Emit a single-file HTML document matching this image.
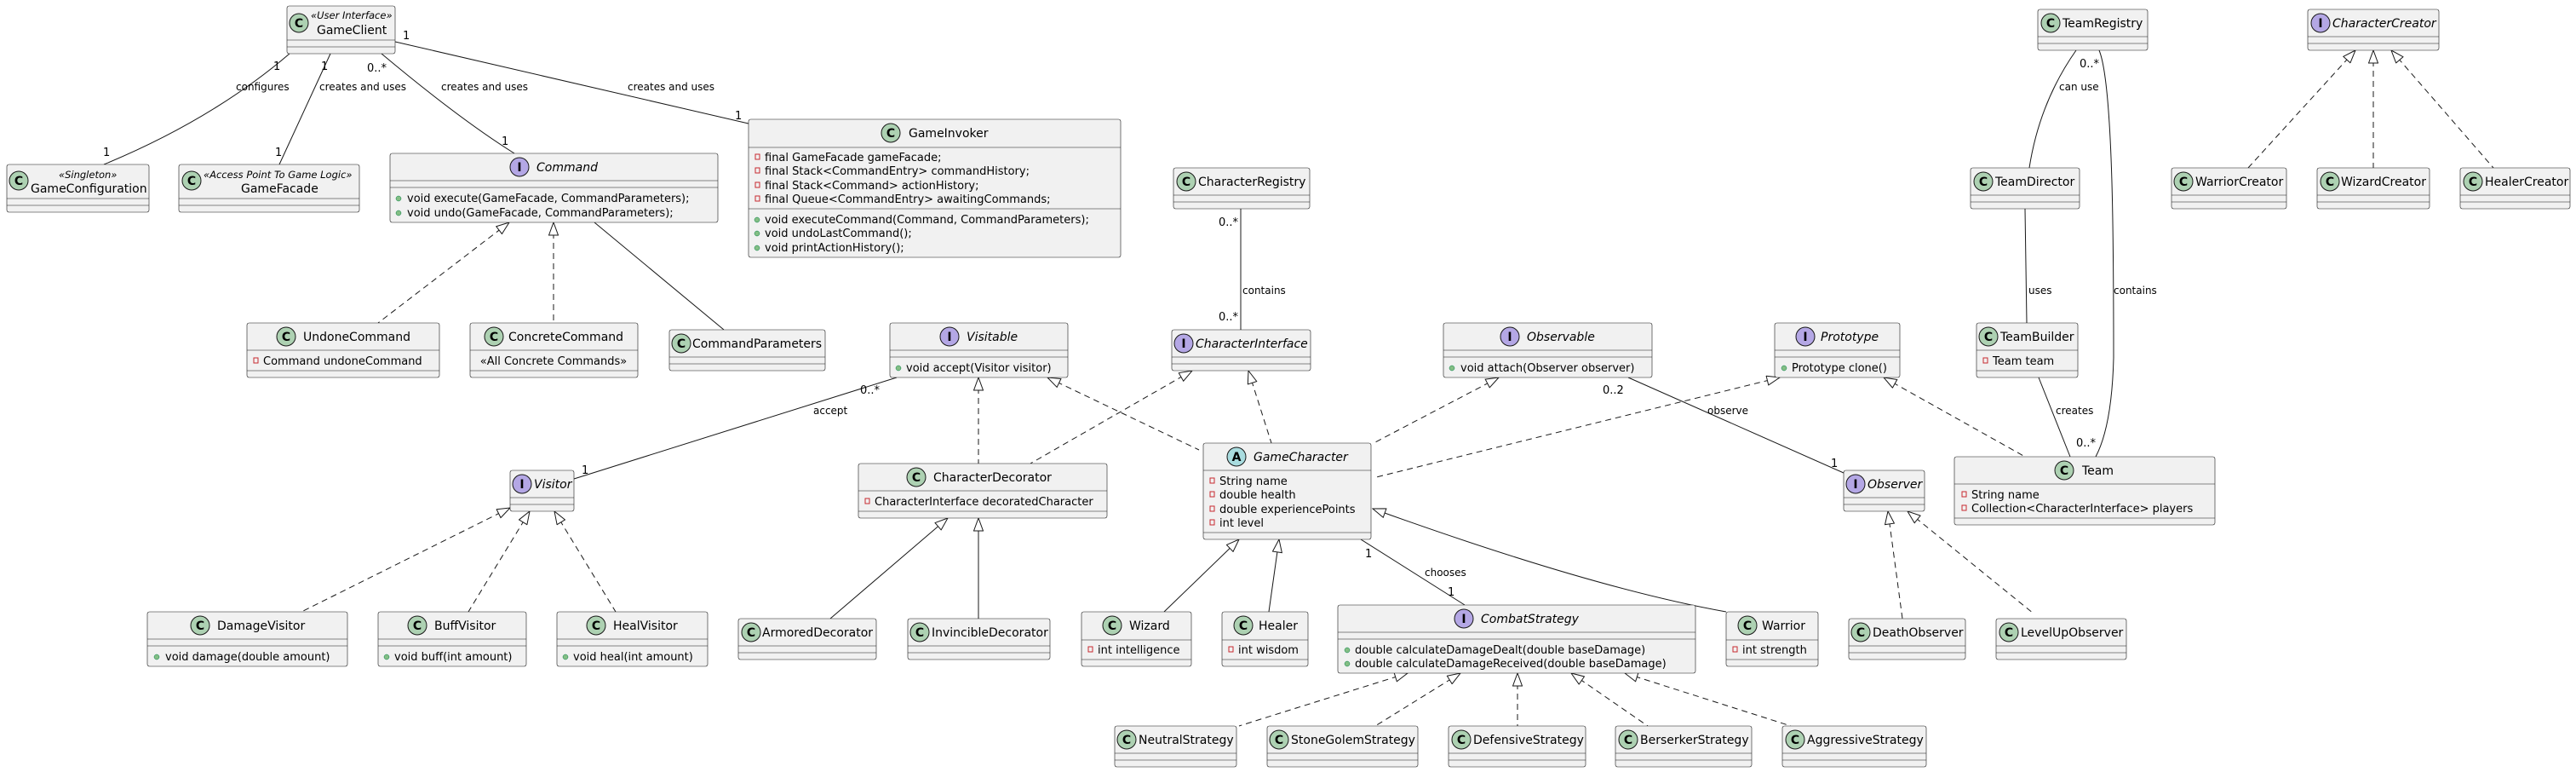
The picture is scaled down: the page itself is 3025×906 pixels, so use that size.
<!DOCTYPE html>
<html><head><meta charset="utf-8"><style>
html,body{margin:0;padding:0;background:#fff;}
svg{display:block;font-family:"DejaVu Sans","Liberation Sans",sans-serif;}
.b rect{fill:#F1F1F1;stroke:#181818;stroke-width:.6;}
.b line{stroke:#181818;stroke-width:.6;}
.n{font-size:14px;fill:#000;}
.i{font-size:14px;font-style:italic;fill:#000;}
.s{font-size:11.5px;font-style:italic;fill:#000;}
.m{font-size:13px;fill:#000;}
.lb{font-size:12px;fill:#000;}
.mu{font-size:13px;fill:#000;}
.e{fill:none;stroke:#181818;stroke-width:1;}
.d{fill:none;stroke:#181818;stroke-width:1;stroke-dasharray:7,5;}
.ic{stroke:#181818;stroke-width:1;}
.cl{fill:#ADD1B2;}.it{fill:#B4A7E5;}.ab{fill:#A9DCDF;}
.lt{font-size:14px;font-weight:bold;fill:#000;text-anchor:middle;}
.pv{fill:none;stroke:#C82930;stroke-width:1;}
.pb{fill:#84BE84;stroke:#038048;stroke-width:.5;}
</style></head><body>
<svg width="3025" height="906" viewBox="0 0 3025 906" xmlns="http://www.w3.org/2000/svg">
<defs>
<marker id="t" markerUnits="userSpaceOnUse" viewBox="0 0 17 12" refX="16" refY="6" markerWidth="17" markerHeight="12" orient="auto-start-reverse">
<path d="M1,0.5 L16,6 L1,11.5 Z" fill="#fff" stroke="#181818" stroke-width="1"/>
</marker>
</defs>

<!-- EDGES -->
<path class="e" d="M340,63 Q250,140 122,193"/>
<path class="e" d="M388,63 L328,193"/>
<path class="e" d="M448,63 Q540,140 604,180"/>
<path class="e" d="M464,49 L879,145"/>
<path class="d" marker-start="url(#t)" d="M598,261 L444,379"/>
<path class="d" marker-start="url(#t)" d="M650,261 L650,379"/>
<path class="e" d="M698,261 L850,387"/>
<path class="e" d="M1457,245 L1457,387"/>
<path class="e" d="M1053,443 L674,562"/>
<path class="d" marker-start="url(#t)" d="M1149,443 L1149,544"/>
<path class="d" marker-start="url(#t)" d="M1230,443 L1408,528"/>
<path class="d" marker-start="url(#t)" d="M1400,435 L1210,544"/>
<path class="d" marker-start="url(#t)" d="M1466,435 L1493,520"/>
<path class="d" marker-start="url(#t)" d="M1760,443 L1613,520"/>
<path class="e" d="M1912,443 L2165,555"/>
<path class="d" marker-start="url(#t)" d="M2090,443 L1616,560"/>
<path class="d" marker-start="url(#t)" d="M2212,443 L2378,536"/>
<path class="e" d="M2438,59 Q2395,120 2383,197"/>
<path class="e" d="M2465,59 C2482,100 2482,300 2482,420 Q2480,500 2461,536"/>
<path class="e" d="M2378,245 L2380,379"/>
<path class="e" d="M2394,443 L2431,536"/>
<path class="d" marker-start="url(#t)" d="M2766,59 L2640,197"/>
<path class="d" marker-start="url(#t)" d="M2787,59 L2787,197"/>
<path class="d" marker-start="url(#t)" d="M2808,59 L2928,197"/>
<path class="d" marker-start="url(#t)" d="M599,596 L354,718"/>
<path class="d" marker-start="url(#t)" d="M622,600 L550,718"/>
<path class="d" marker-start="url(#t)" d="M651,600 L723,718"/>
<path class="e" marker-start="url(#t)" d="M1113,608 L975,726"/>
<path class="e" marker-start="url(#t)" d="M1149,608 L1149,726"/>
<path class="e" marker-start="url(#t)" d="M1455,633 L1367,718"/>
<path class="e" marker-start="url(#t)" d="M1502,633 L1490,718"/>
<path class="e" marker-start="url(#t)" d="M1612,597 Q1870,690 2027,718"/>
<path class="e" d="M1598,633 L1720,710"/>
<path class="d" marker-start="url(#t)" d="M1653,790 L1455,852"/>
<path class="d" marker-start="url(#t)" d="M1715,790 L1615,852"/>
<path class="d" marker-start="url(#t)" d="M1782,790 L1782,852"/>
<path class="d" marker-start="url(#t)" d="M1845,790 L1935,852"/>
<path class="d" marker-start="url(#t)" d="M1908,790 L2103,852"/>
<path class="d" marker-start="url(#t)" d="M2217,600 L2234,726"/>
<path class="d" marker-start="url(#t)" d="M2240,600 L2388,720"/>

<!-- LABELS -->
<text class="lb" x="277" y="106">configures</text>
<text class="lb" x="375" y="106">creates and uses</text>
<text class="lb" x="518" y="106">creates and uses</text>
<text class="lb" x="737" y="106">creates and uses</text>
<text class="mu" x="321" y="82">1</text>
<text class="mu" x="377" y="82">1</text>
<text class="mu" x="431" y="84">0..*</text>
<text class="mu" x="473" y="46">1</text>
<text class="mu" x="121" y="183">1</text>
<text class="mu" x="323" y="183">1</text>
<text class="mu" x="589" y="170">1</text>
<text class="mu" x="863" y="140">1</text>
<text class="mu" x="1431" y="265">0..*</text>
<text class="lb" x="1459" y="345">contains</text>
<text class="mu" x="1431" y="376">0..*</text>
<text class="mu" x="1010" y="462">0..*</text>
<text class="lb" x="955" y="486">accept</text>
<text class="mu" x="683" y="556">1</text>
<text class="mu" x="1882" y="462">0..2</text>
<text class="lb" x="2005" y="486">observe</text>
<text class="mu" x="2150" y="548">1</text>
<text class="lb" x="2418" y="106">can use</text>
<text class="mu" x="2442" y="79">0..*</text>
<text class="lb" x="2482" y="345">contains</text>
<text class="lb" x="2382" y="345">uses</text>
<text class="lb" x="2414" y="486">creates</text>
<text class="mu" x="2438" y="524">0..*</text>
<text class="mu" x="1603" y="654">1</text>
<text class="lb" x="1673" y="676">chooses</text>
<text class="mu" x="1700" y="699">1</text>

<!-- NODES -->
<g class="b"><rect x="337" y="7" width="127" height="56" rx="2.5"/><line x1="337" y1="47" x2="464" y2="47"/><line x1="337" y1="55" x2="464" y2="55"/></g>
<circle class="ic cl" cx="351" cy="27" r="11"/><text class="lt" x="351" y="32">C</text>
<text class="s" x="365" y="22">«User Interface»</text><text class="n" x="372" y="40">GameClient</text>

<g class="b"><rect x="8" y="193" width="167" height="56" rx="2.5"/><line x1="8" y1="233" x2="175" y2="233"/><line x1="8" y1="241" x2="175" y2="241"/></g>
<circle class="ic cl" cx="22" cy="212" r="11"/><text class="lt" x="22" y="217">C</text>
<text class="s" x="69" y="209">«Singleton»</text><text class="n" x="36" y="226">GameConfiguration</text>

<g class="b"><rect x="210" y="193" width="212" height="56" rx="2.5"/><line x1="210" y1="233" x2="422" y2="233"/><line x1="210" y1="241" x2="422" y2="241"/></g>
<circle class="ic cl" cx="225" cy="212" r="11"/><text class="lt" x="225" y="217">C</text>
<text class="s" x="239" y="209">«Access Point To Game Logic»</text><text class="n" x="283" y="226">GameFacade</text>

<g class="b"><rect x="458" y="180" width="385" height="81" rx="2.5"/><line x1="458" y1="212" x2="843" y2="212"/><line x1="458" y1="220" x2="843" y2="220"/></g>
<circle class="ic it" cx="610" cy="196" r="11"/><text class="lt" x="610" y="201">I</text>
<text class="i" x="630" y="201">Command</text>
<circle class="pb" cx="468" cy="233" r="3"/><text class="m" x="478" y="237">void execute(GameFacade, CommandParameters);</text>
<circle class="pb" cx="468" cy="250" r="3"/><text class="m" x="478" y="254">void undo(GameFacade, CommandParameters);</text>

<g class="b"><rect x="879" y="140" width="437" height="162" rx="2.5"/><line x1="879" y1="173" x2="1316" y2="173"/><line x1="879" y1="245" x2="1316" y2="245"/></g>
<circle class="ic cl" cx="1046" cy="156" r="11"/><text class="lt" x="1046" y="161">C</text>
<text class="n" x="1067" y="161">GameInvoker</text>
<rect class="pv" x="887" y="181" width="5" height="6"/><text class="m" x="898" y="189">final GameFacade gameFacade;</text>
<rect class="pv" x="887" y="197" width="5" height="6"/><text class="m" x="898" y="205">final Stack&lt;CommandEntry&gt; commandHistory;</text>
<rect class="pv" x="887" y="214" width="5" height="6"/><text class="m" x="898" y="222">final Stack&lt;Command&gt; actionHistory;</text>
<rect class="pv" x="887" y="230" width="5" height="6"/><text class="m" x="898" y="238">final Queue&lt;CommandEntry&gt; awaitingCommands;</text>
<circle class="pb" cx="889" cy="258" r="3"/><text class="m" x="898" y="262">void executeCommand(Command, CommandParameters);</text>
<circle class="pb" cx="889" cy="274" r="3"/><text class="m" x="898" y="278">void undoLastCommand();</text>
<circle class="pb" cx="889" cy="291" r="3"/><text class="m" x="898" y="295">void printActionHistory();</text>

<g class="b"><rect x="290" y="379" width="226" height="64" rx="2.5"/><line x1="290" y1="411" x2="516" y2="411"/><line x1="290" y1="435" x2="516" y2="435"/></g>
<circle class="ic cl" cx="336" cy="395" r="11"/><text class="lt" x="336" y="400">C</text>
<text class="n" x="356" y="400">UndoneCommand</text>
<rect class="pv" x="298" y="420" width="5" height="6"/><text class="m" x="309" y="428">Command undoneCommand</text>

<g class="b"><rect x="552" y="379" width="197" height="64" rx="2.5"/><line x1="552" y1="411" x2="749" y2="411"/><line x1="552" y1="435" x2="749" y2="435"/></g>
<circle class="ic cl" cx="580" cy="395" r="11"/><text class="lt" x="580" y="400">C</text>
<text class="n" x="597" y="400">ConcreteCommand</text>
<text class="m" x="650" y="428" text-anchor="middle">«All Concrete Commands»</text>

<g class="b"><rect x="786" y="387" width="183" height="48" rx="2.5"/><line x1="786" y1="419" x2="969" y2="419"/><line x1="786" y1="427" x2="969" y2="427"/></g>
<circle class="ic cl" cx="800" cy="403" r="11"/><text class="lt" x="800" y="408">C</text>
<text class="n" x="813" y="408">CommandParameters</text>

<g class="b"><rect x="1378" y="197" width="160" height="48" rx="2.5"/><line x1="1378" y1="229" x2="1538" y2="229"/><line x1="1378" y1="237" x2="1538" y2="237"/></g>
<circle class="ic cl" cx="1393" cy="213" r="11"/><text class="lt" x="1393" y="218">C</text>
<text class="n" x="1407" y="218">CharacterRegistry</text>

<g class="b"><rect x="1045" y="379" width="209" height="64" rx="2.5"/><line x1="1045" y1="411" x2="1254" y2="411"/><line x1="1045" y1="419" x2="1254" y2="419"/></g>
<circle class="ic it" cx="1115" cy="395" r="11"/><text class="lt" x="1115" y="400">I</text>
<text class="i" x="1135" y="400">Visitable</text>
<circle class="pb" cx="1055" cy="432" r="3"/><text class="m" x="1064" y="436">void accept(Visitor visitor)</text>

<g class="b"><rect x="1376" y="387" width="163" height="48" rx="2.5"/><line x1="1376" y1="419" x2="1539" y2="419"/><line x1="1376" y1="427" x2="1539" y2="427"/></g>
<circle class="ic it" cx="1390" cy="403" r="11"/><text class="lt" x="1390" y="408">I</text>
<text class="i" x="1404" y="408">CharacterInterface</text>

<g class="b"><rect x="1695" y="379" width="245" height="64" rx="2.5"/><line x1="1695" y1="411" x2="1940" y2="411"/><line x1="1695" y1="419" x2="1940" y2="419"/></g>
<circle class="ic it" cx="1773" cy="395" r="11"/><text class="lt" x="1773" y="400">I</text>
<text class="i" x="1793" y="400">Observable</text>
<circle class="pb" cx="1705" cy="432" r="3"/><text class="m" x="1715" y="436">void attach(Observer observer)</text>

<g class="b"><rect x="2393" y="11" width="129" height="48" rx="2.5"/><line x1="2393" y1="43" x2="2522" y2="43"/><line x1="2393" y1="51" x2="2522" y2="51"/></g>
<circle class="ic cl" cx="2408" cy="27" r="11"/><text class="lt" x="2408" y="32">C</text>
<text class="n" x="2422" y="32">TeamRegistry</text>

<g class="b"><rect x="2710" y="11" width="154" height="48" rx="2.5"/><line x1="2710" y1="43" x2="2864" y2="43"/><line x1="2710" y1="51" x2="2864" y2="51"/></g>
<circle class="ic it" cx="2725" cy="27" r="11"/><text class="lt" x="2725" y="32">I</text>
<text class="i" x="2739" y="32">CharacterCreator</text>

<g class="b"><rect x="2314" y="197" width="128" height="48" rx="2.5"/><line x1="2314" y1="229" x2="2442" y2="229"/><line x1="2314" y1="237" x2="2442" y2="237"/></g>
<circle class="ic cl" cx="2329" cy="213" r="11"/><text class="lt" x="2329" y="218">C</text>
<text class="n" x="2343" y="218">TeamDirector</text>

<g class="b"><rect x="2550" y="197" width="135" height="48" rx="2.5"/><line x1="2550" y1="229" x2="2685" y2="229"/><line x1="2550" y1="237" x2="2685" y2="237"/></g>
<circle class="ic cl" cx="2564" cy="213" r="11"/><text class="lt" x="2564" y="218">C</text>
<text class="n" x="2578" y="218">WarriorCreator</text>

<g class="b"><rect x="2721" y="197" width="132" height="48" rx="2.5"/><line x1="2721" y1="229" x2="2853" y2="229"/><line x1="2721" y1="237" x2="2853" y2="237"/></g>
<circle class="ic cl" cx="2736" cy="213" r="11"/><text class="lt" x="2736" y="218">C</text>
<text class="n" x="2749" y="218">WizardCreator</text>

<g class="b"><rect x="2889" y="197" width="129" height="48" rx="2.5"/><line x1="2889" y1="229" x2="3018" y2="229"/><line x1="2889" y1="237" x2="3018" y2="237"/></g>
<circle class="ic cl" cx="2904" cy="213" r="11"/><text class="lt" x="2904" y="218">C</text>
<text class="n" x="2918" y="218">HealerCreator</text>

<g class="b"><rect x="2084" y="379" width="147" height="64" rx="2.5"/><line x1="2084" y1="411" x2="2231" y2="411"/><line x1="2084" y1="419" x2="2231" y2="419"/></g>
<circle class="ic it" cx="2120" cy="395" r="11"/><text class="lt" x="2120" y="400">I</text>
<text class="i" x="2138" y="400">Prototype</text>
<circle class="pb" cx="2095" cy="432" r="3"/><text class="m" x="2104" y="436">Prototype clone()</text>

<g class="b"><rect x="2321" y="379" width="119" height="64" rx="2.5"/><line x1="2321" y1="411" x2="2440" y2="411"/><line x1="2321" y1="435" x2="2440" y2="435"/></g>
<circle class="ic cl" cx="2335" cy="395" r="11"/><text class="lt" x="2335" y="400">C</text>
<text class="n" x="2349" y="400">TeamBuilder</text>
<rect class="pv" x="2329" y="420" width="5" height="6"/><text class="m" x="2340" y="428">Team team</text>

<g class="b"><rect x="599" y="552" width="75" height="48" rx="2.5"/><line x1="599" y1="584" x2="674" y2="584"/><line x1="599" y1="592" x2="674" y2="592"/></g>
<circle class="ic it" cx="613" cy="568" r="11"/><text class="lt" x="613" y="573">I</text>
<text class="i" x="627" y="573">Visitor</text>

<g class="b"><rect x="173" y="718" width="235" height="64" rx="2.5"/><line x1="173" y1="750" x2="408" y2="750"/><line x1="173" y1="758" x2="408" y2="758"/></g>
<circle class="ic cl" cx="235" cy="734" r="11"/><text class="lt" x="235" y="739">C</text>
<text class="n" x="255" y="739">DamageVisitor</text>
<circle class="pb" cx="184" cy="771" r="3"/><text class="m" x="194" y="775">void damage(double amount)</text>

<g class="b"><rect x="444" y="718" width="174" height="64" rx="2.5"/><line x1="444" y1="750" x2="618" y2="750"/><line x1="444" y1="758" x2="618" y2="758"/></g>
<circle class="ic cl" cx="490" cy="734" r="11"/><text class="lt" x="490" y="739">C</text>
<text class="n" x="510" y="739">BuffVisitor</text>
<circle class="pb" cx="454" cy="771" r="3"/><text class="m" x="463" y="775">void buff(int amount)</text>

<g class="b"><rect x="654" y="718" width="177" height="64" rx="2.5"/><line x1="654" y1="750" x2="831" y2="750"/><line x1="654" y1="758" x2="831" y2="758"/></g>
<circle class="ic cl" cx="700" cy="734" r="11"/><text class="lt" x="700" y="739">C</text>
<text class="n" x="720" y="739">HealVisitor</text>
<circle class="pb" cx="664" cy="771" r="3"/><text class="m" x="673" y="775">void heal(int amount)</text>

<g class="b"><rect x="867" y="726" width="162" height="48" rx="2.5"/><line x1="867" y1="758" x2="1029" y2="758"/><line x1="867" y1="766" x2="1029" y2="766"/></g>
<circle class="ic cl" cx="882" cy="742" r="11"/><text class="lt" x="882" y="747">C</text>
<text class="n" x="895" y="747">ArmoredDecorator</text>

<g class="b"><rect x="1008" y="544" width="292" height="64" rx="2.5"/><line x1="1008" y1="576" x2="1300" y2="576"/><line x1="1008" y1="600" x2="1300" y2="600"/></g>
<circle class="ic cl" cx="1076" cy="560" r="11"/><text class="lt" x="1076" y="565">C</text>
<text class="n" x="1096" y="565">CharacterDecorator</text>
<rect class="pv" x="1016" y="585" width="5" height="6"/><text class="m" x="1027" y="593">CharacterInterface decoratedCharacter</text>

<g class="b"><rect x="1066" y="726" width="167" height="48" rx="2.5"/><line x1="1066" y1="758" x2="1233" y2="758"/><line x1="1066" y1="766" x2="1233" y2="766"/></g>
<circle class="ic cl" cx="1080" cy="742" r="11"/><text class="lt" x="1080" y="747">C</text>
<text class="n" x="1094" y="747">InvincibleDecorator</text>

<g class="b"><rect x="1413" y="520" width="197" height="113" rx="2.5"/><line x1="1413" y1="552" x2="1610" y2="552"/><line x1="1413" y1="625" x2="1610" y2="625"/></g>
<circle class="ic ab" cx="1452" cy="536" r="11"/><text class="lt" x="1452" y="541">A</text>
<text class="i" x="1472" y="541">GameCharacter</text>
<rect class="pv" x="1421" y="561" width="5" height="6"/><text class="m" x="1432" y="569">String name</text>
<rect class="pv" x="1421" y="577" width="5" height="6"/><text class="m" x="1432" y="585">double health</text>
<rect class="pv" x="1421" y="594" width="5" height="6"/><text class="m" x="1432" y="602">double experiencePoints</text>
<rect class="pv" x="1421" y="610" width="5" height="6"/><text class="m" x="1432" y="618">int level</text>

<g class="b"><rect x="1270" y="718" width="129" height="64" rx="2.5"/><line x1="1270" y1="751" x2="1399" y2="751"/><line x1="1270" y1="774" x2="1399" y2="774"/></g>
<circle class="ic cl" cx="1306" cy="734" r="11"/><text class="lt" x="1306" y="739">C</text>
<text class="n" x="1326" y="739">Wizard</text>
<rect class="pv" x="1278" y="759" width="5" height="6"/><text class="m" x="1289" y="767">int intelligence</text>

<g class="b"><rect x="1435" y="718" width="101" height="64" rx="2.5"/><line x1="1435" y1="751" x2="1536" y2="751"/><line x1="1435" y1="774" x2="1536" y2="774"/></g>
<circle class="ic cl" cx="1460" cy="734" r="11"/><text class="lt" x="1460" y="739">C</text>
<text class="n" x="1478" y="739">Healer</text>
<rect class="pv" x="1443" y="759" width="5" height="6"/><text class="m" x="1454" y="767">int wisdom</text>

<g class="b"><rect x="1571" y="710" width="420" height="80" rx="2.5"/><line x1="1571" y1="742" x2="1991" y2="742"/><line x1="1571" y1="750" x2="1991" y2="750"/></g>
<circle class="ic it" cx="1719" cy="726" r="11"/><text class="lt" x="1719" y="731">I</text>
<text class="i" x="1739" y="731">CombatStrategy</text>
<circle class="pb" cx="1582" cy="763" r="3"/><text class="m" x="1591" y="767">double calculateDamageDealt(double baseDamage)</text>
<circle class="pb" cx="1582" cy="779" r="3"/><text class="m" x="1591" y="783">double calculateDamageReceived(double baseDamage)</text>

<g class="b"><rect x="1309" y="852" width="143" height="48" rx="2.5"/><line x1="1309" y1="884" x2="1452" y2="884"/><line x1="1309" y1="892" x2="1452" y2="892"/></g>
<circle class="ic cl" cx="1323" cy="868" r="11"/><text class="lt" x="1323" y="873">C</text>
<text class="n" x="1337" y="873">NeutralStrategy</text>

<g class="b"><rect x="1488" y="852" width="177" height="48" rx="2.5"/><line x1="1488" y1="884" x2="1665" y2="884"/><line x1="1488" y1="892" x2="1665" y2="892"/></g>
<circle class="ic cl" cx="1502" cy="868" r="11"/><text class="lt" x="1502" y="873">C</text>
<text class="n" x="1516" y="873">StoneGolemStrategy</text>

<g class="b"><rect x="1701" y="852" width="161" height="48" rx="2.5"/><line x1="1701" y1="884" x2="1862" y2="884"/><line x1="1701" y1="892" x2="1862" y2="892"/></g>
<circle class="ic cl" cx="1716" cy="868" r="11"/><text class="lt" x="1716" y="873">C</text>
<text class="n" x="1730" y="873">DefensiveStrategy</text>

<g class="b"><rect x="1897" y="852" width="160" height="48" rx="2.5"/><line x1="1897" y1="884" x2="2057" y2="884"/><line x1="1897" y1="892" x2="2057" y2="892"/></g>
<circle class="ic cl" cx="1912" cy="868" r="11"/><text class="lt" x="1912" y="873">C</text>
<text class="n" x="1926" y="873">BerserkerStrategy</text>

<g class="b"><rect x="2093" y="852" width="169" height="48" rx="2.5"/><line x1="2093" y1="884" x2="2262" y2="884"/><line x1="2093" y1="892" x2="2262" y2="892"/></g>
<circle class="ic cl" cx="2108" cy="868" r="11"/><text class="lt" x="2108" y="873">C</text>
<text class="n" x="2122" y="873">AggressiveStrategy</text>

<g class="b"><rect x="2165" y="552" width="95" height="48" rx="2.5"/><line x1="2165" y1="584" x2="2260" y2="584"/><line x1="2165" y1="592" x2="2260" y2="592"/></g>
<circle class="ic it" cx="2179" cy="568" r="11"/><text class="lt" x="2179" y="573">I</text>
<text class="i" x="2193" y="573">Observer</text>

<g class="b"><rect x="2295" y="536" width="306" height="80" rx="2.5"/><line x1="2295" y1="568" x2="2601" y2="568"/><line x1="2295" y1="608" x2="2601" y2="608"/></g>
<circle class="ic cl" cx="2424" cy="552" r="11"/><text class="lt" x="2424" y="557">C</text>
<text class="n" x="2445" y="557">Team</text>
<rect class="pv" x="2304" y="577" width="5" height="6"/><text class="m" x="2315" y="585">String name</text>
<rect class="pv" x="2304" y="593" width="5" height="6"/><text class="m" x="2315" y="601">Collection&lt;CharacterInterface&gt; players</text>

<g class="b"><rect x="2027" y="718" width="108" height="64" rx="2.5"/><line x1="2027" y1="751" x2="2135" y2="751"/><line x1="2027" y1="774" x2="2135" y2="774"/></g>
<circle class="ic cl" cx="2052" cy="734" r="11"/><text class="lt" x="2052" y="739">C</text>
<text class="n" x="2069" y="739">Warrior</text>
<rect class="pv" x="2035" y="759" width="5" height="6"/><text class="m" x="2046" y="767">int strength</text>

<g class="b"><rect x="2171" y="726" width="137" height="48" rx="2.5"/><line x1="2171" y1="758" x2="2308" y2="758"/><line x1="2171" y1="766" x2="2308" y2="766"/></g>
<circle class="ic cl" cx="2185" cy="742" r="11"/><text class="lt" x="2185" y="747">C</text>
<text class="n" x="2199" y="747">DeathObserver</text>

<g class="b"><rect x="2344" y="726" width="153" height="48" rx="2.5"/><line x1="2344" y1="758" x2="2497" y2="758"/><line x1="2344" y1="766" x2="2497" y2="766"/></g>
<circle class="ic cl" cx="2359" cy="742" r="11"/><text class="lt" x="2359" y="747">C</text>
<text class="n" x="2373" y="747">LevelUpObserver</text>
</svg>
</body></html>
